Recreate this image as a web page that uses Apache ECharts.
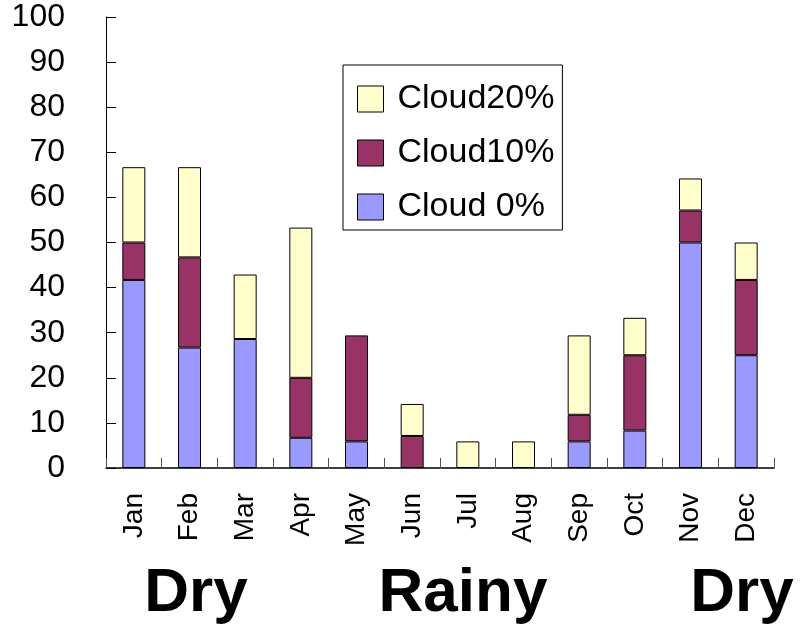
<!DOCTYPE html>
<html>
<head>
<meta charset="utf-8">
<script src="https://cdn.jsdelivr.net/npm/echarts@6/dist/echarts.min.js"></script>
<style>
  html, body { margin: 0; padding: 0; background: #fff; }
  #chart { width: 806px; height: 630px; }
</style>
</head>
<body>
<div id="chart"></div>
<script>
// Monthly share of days (%) by cloud-cover class
const months = ['Jan', 'Feb', 'Mar', 'Apr', 'May', 'Jun', 'Jul', 'Aug', 'Sep', 'Oct', 'Nov', 'Dec'];
const cloud0 = [41.7, 26.7, 28.6, 6.7, 5.9, 0, 0, 0, 5.9, 8.3, 50.0, 25.0];
const cloud10 = [8.3, 20.0, 0, 13.3, 23.5, 7.1, 0, 0, 5.9, 16.7, 7.1, 16.7];
const cloud20 = [16.7, 20.0, 14.3, 33.3, 0, 7.1, 5.9, 5.9, 17.6, 8.3, 7.1, 8.3];
const yTicks = [0, 10, 20, 30, 40, 50, 60, 70, 80, 90, 100];
const seasons = ['Dry', 'Rainy', 'Dry'];

const FONT = '"Liberation Sans", Arial, sans-serif';
const chart = echarts.init(document.getElementById('chart'), null, { renderer: 'canvas' });

// empty segments are skipped so no zero-height outline is drawn
const seg = arr => arr.map(v => (v === 0 ? null : v));

function barSeries(name, data, color) {
  return {
    name: name,
    type: 'bar',
    stack: 'cloud',
    barWidth: 23,
    data: seg(data),
    itemStyle: { color: color, borderColor: '#000', borderWidth: 1 },
    emphasis: { disabled: true }
  };
}

chart.setOption({
  animation: false,
  backgroundColor: '#fff',
  grid: { left: 106, right: 32, top: 17, bottom: 162, containLabel: false },
  legend: {
    orient: 'vertical',
    left: 343,
    top: 65,
    data: ['Cloud20%', 'Cloud10%', 'Cloud 0%'],
    itemWidth: 26,
    itemHeight: 26,
    itemGap: 20,
    padding: [17, 8, 6, 14],
    borderColor: '#000',
    borderWidth: 1,
    icon: 'rect',
    itemStyle: { borderColor: '#000', borderWidth: 1 },
    textStyle: { fontFamily: FONT, fontSize: 34, color: '#000', padding: [0, 0, 0, 9] }
  },
  xAxis: {
    type: 'category',
    data: months,
    boundaryGap: true,
    axisLine: { lineStyle: { color: '#000', width: 1.5 } },
    axisTick: { show: true, inside: true, length: 10, alignWithLabel: false, lineStyle: { color: '#555' } },
    axisLabel: { rotate: 90, margin: 25, fontFamily: FONT, fontSize: 28, color: '#000', interval: 0 },
    splitLine: { show: false }
  },
  yAxis: {
    type: 'value',
    min: yTicks[0],
    max: yTicks[yTicks.length - 1],
    interval: yTicks[1] - yTicks[0],
    axisLine: { show: true, lineStyle: { color: '#000', width: 1 } },
    axisTick: { show: true, inside: true, length: 10, lineStyle: { color: '#000' } },
    axisLabel: { margin: 41, fontFamily: FONT, fontSize: 32, color: '#000' },
    splitLine: { show: false }
  },
  series: [
    barSeries('Cloud 0%', cloud0, '#9999FF'),
    barSeries('Cloud10%', cloud10, '#993366'),
    barSeries('Cloud20%', cloud20, '#FFFFCC')
  ],
  graphic: [
    { type: 'text', x: 196, y: 594, style: { text: seasons[0], font: 'bold 62px ' + FONT, fill: '#000', align: 'center', verticalAlign: 'middle' } },
    { type: 'text', x: 463, y: 594, style: { text: seasons[1], font: 'bold 62px ' + FONT, fill: '#000', align: 'center', verticalAlign: 'middle' } },
    { type: 'text', x: 742, y: 594, style: { text: seasons[2], font: 'bold 62px ' + FONT, fill: '#000', align: 'center', verticalAlign: 'middle' } }
  ]
});
</script>
</body>
</html>
